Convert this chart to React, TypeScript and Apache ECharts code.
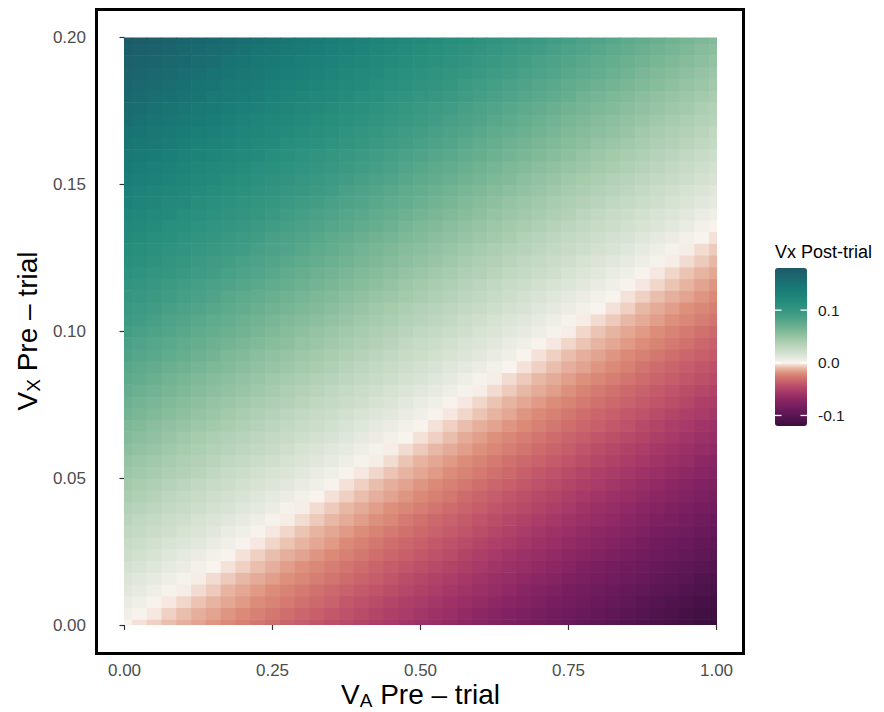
import React, { useEffect, useRef } from "react";
import * as echarts from "echarts";

// V_A pre-trial (x) sample points
const vaPreTrial = [0, 0.025, 0.05, 0.075, 0.1, 0.125, 0.15, 0.175, 0.2, 0.225, 0.25, 0.275, 0.3, 0.325, 0.35, 0.375, 0.4, 0.425, 0.45, 0.475, 0.5, 0.525, 0.55, 0.575, 0.6, 0.625, 0.65, 0.675, 0.7, 0.725, 0.75, 0.775, 0.8, 0.825, 0.85, 0.875, 0.9, 0.925, 0.95, 0.975, 1];
// V_X pre-trial (y) sample points
const vxPreTrial = [0, 0.004, 0.008, 0.012, 0.016, 0.02, 0.024, 0.028, 0.032, 0.036, 0.04, 0.044, 0.048, 0.052, 0.056, 0.06, 0.064, 0.068, 0.072, 0.076, 0.08, 0.084, 0.088, 0.092, 0.096, 0.1, 0.104, 0.108, 0.112, 0.116, 0.12, 0.124, 0.128, 0.132, 0.136, 0.14, 0.144, 0.148, 0.152, 0.156, 0.16, 0.164, 0.168, 0.172, 0.176, 0.18, 0.184, 0.188, 0.192, 0.196, 0.2];
// Vx post-trial: one row per vxPreTrial value, one column per vaPreTrial value
const vxPostTrial = [
  [0, -0.003, -0.006, -0.009, -0.012, -0.015, -0.018, -0.021, -0.024, -0.027, -0.03, -0.034, -0.037, -0.04, -0.043, -0.046, -0.049, -0.052, -0.055, -0.058, -0.061, -0.064, -0.067, -0.07, -0.073, -0.076, -0.079, -0.082, -0.085, -0.088, -0.091, -0.095, -0.098, -0.101, -0.104, -0.107, -0.11, -0.113, -0.116, -0.119, -0.122],
  [0.004, 0.001, -0.002, -0.006, -0.009, -0.012, -0.015, -0.018, -0.021, -0.024, -0.027, -0.03, -0.033, -0.036, -0.039, -0.042, -0.045, -0.048, -0.051, -0.054, -0.057, -0.06, -0.063, -0.067, -0.07, -0.073, -0.076, -0.079, -0.082, -0.085, -0.088, -0.091, -0.094, -0.097, -0.1, -0.103, -0.106, -0.109, -0.112, -0.115, -0.118],
  [0.007, 0.004, 0.001, -0.002, -0.005, -0.008, -0.011, -0.014, -0.017, -0.02, -0.023, -0.026, -0.029, -0.032, -0.035, -0.039, -0.042, -0.045, -0.048, -0.051, -0.054, -0.057, -0.06, -0.063, -0.066, -0.069, -0.072, -0.075, -0.078, -0.081, -0.084, -0.087, -0.09, -0.093, -0.096, -0.1, -0.103, -0.106, -0.109, -0.112, -0.115],
  [0.011, 0.008, 0.005, 0.002, -0.001, -0.004, -0.007, -0.011, -0.014, -0.017, -0.02, -0.023, -0.026, -0.029, -0.032, -0.035, -0.038, -0.041, -0.044, -0.047, -0.05, -0.053, -0.056, -0.059, -0.062, -0.065, -0.068, -0.072, -0.075, -0.078, -0.081, -0.084, -0.087, -0.09, -0.093, -0.096, -0.099, -0.102, -0.105, -0.108, -0.111],
  [0.014, 0.011, 0.008, 0.005, 0.002, -0.001, -0.004, -0.007, -0.01, -0.013, -0.016, -0.019, -0.022, -0.025, -0.028, -0.031, -0.034, -0.037, -0.04, -0.044, -0.047, -0.05, -0.053, -0.056, -0.059, -0.062, -0.065, -0.068, -0.071, -0.074, -0.077, -0.08, -0.083, -0.086, -0.089, -0.092, -0.095, -0.098, -0.101, -0.105, -0.108],
  [0.018, 0.015, 0.012, 0.009, 0.006, 0.003, 0, -0.003, -0.006, -0.009, -0.012, -0.016, -0.019, -0.022, -0.025, -0.028, -0.031, -0.034, -0.037, -0.04, -0.043, -0.046, -0.049, -0.052, -0.055, -0.058, -0.061, -0.064, -0.067, -0.07, -0.073, -0.077, -0.08, -0.083, -0.086, -0.089, -0.092, -0.095, -0.098, -0.101, -0.104],
  [0.022, 0.019, 0.016, 0.012, 0.009, 0.006, 0.003, 0, -0.003, -0.006, -0.009, -0.012, -0.015, -0.018, -0.021, -0.024, -0.027, -0.03, -0.033, -0.036, -0.039, -0.042, -0.045, -0.049, -0.052, -0.055, -0.058, -0.061, -0.064, -0.067, -0.07, -0.073, -0.076, -0.079, -0.082, -0.085, -0.088, -0.091, -0.094, -0.097, -0.1],
  [0.025, 0.022, 0.019, 0.016, 0.013, 0.01, 0.007, 0.004, 0.001, -0.002, -0.005, -0.008, -0.011, -0.014, -0.017, -0.021, -0.024, -0.027, -0.03, -0.033, -0.036, -0.039, -0.042, -0.045, -0.048, -0.051, -0.054, -0.057, -0.06, -0.063, -0.066, -0.069, -0.072, -0.075, -0.078, -0.082, -0.085, -0.088, -0.091, -0.094, -0.097],
  [0.029, 0.026, 0.023, 0.02, 0.017, 0.014, 0.011, 0.007, 0.004, 0.001, -0.002, -0.005, -0.008, -0.011, -0.014, -0.017, -0.02, -0.023, -0.026, -0.029, -0.032, -0.035, -0.038, -0.041, -0.044, -0.047, -0.05, -0.054, -0.057, -0.06, -0.063, -0.066, -0.069, -0.072, -0.075, -0.078, -0.081, -0.084, -0.087, -0.09, -0.093],
  [0.032, 0.029, 0.026, 0.023, 0.02, 0.017, 0.014, 0.011, 0.008, 0.005, 0.002, -0.001, -0.004, -0.007, -0.01, -0.013, -0.016, -0.019, -0.022, -0.026, -0.029, -0.032, -0.035, -0.038, -0.041, -0.044, -0.047, -0.05, -0.053, -0.056, -0.059, -0.062, -0.065, -0.068, -0.071, -0.074, -0.077, -0.08, -0.083, -0.087, -0.09],
  [0.036, 0.033, 0.03, 0.027, 0.024, 0.021, 0.018, 0.015, 0.012, 0.009, 0.006, 0.002, -0.001, -0.004, -0.007, -0.01, -0.013, -0.016, -0.019, -0.022, -0.025, -0.028, -0.031, -0.034, -0.037, -0.04, -0.043, -0.046, -0.049, -0.052, -0.055, -0.059, -0.062, -0.065, -0.068, -0.071, -0.074, -0.077, -0.08, -0.083, -0.086],
  [0.04, 0.037, 0.034, 0.03, 0.027, 0.024, 0.021, 0.018, 0.015, 0.012, 0.009, 0.006, 0.003, 0, -0.003, -0.006, -0.009, -0.012, -0.015, -0.018, -0.021, -0.024, -0.027, -0.031, -0.034, -0.037, -0.04, -0.043, -0.046, -0.049, -0.052, -0.055, -0.058, -0.061, -0.064, -0.067, -0.07, -0.073, -0.076, -0.079, -0.082],
  [0.043, 0.04, 0.037, 0.034, 0.031, 0.028, 0.025, 0.022, 0.019, 0.016, 0.013, 0.01, 0.007, 0.004, 0.001, -0.003, -0.006, -0.009, -0.012, -0.015, -0.018, -0.021, -0.024, -0.027, -0.03, -0.033, -0.036, -0.039, -0.042, -0.045, -0.048, -0.051, -0.054, -0.057, -0.06, -0.064, -0.067, -0.07, -0.073, -0.076, -0.079],
  [0.047, 0.044, 0.041, 0.038, 0.035, 0.032, 0.029, 0.025, 0.022, 0.019, 0.016, 0.013, 0.01, 0.007, 0.004, 0.001, -0.002, -0.005, -0.008, -0.011, -0.014, -0.017, -0.02, -0.023, -0.026, -0.029, -0.032, -0.036, -0.039, -0.042, -0.045, -0.048, -0.051, -0.054, -0.057, -0.06, -0.063, -0.066, -0.069, -0.072, -0.075],
  [0.05, 0.047, 0.044, 0.041, 0.038, 0.035, 0.032, 0.029, 0.026, 0.023, 0.02, 0.017, 0.014, 0.011, 0.008, 0.005, 0.002, -0.001, -0.004, -0.008, -0.011, -0.014, -0.017, -0.02, -0.023, -0.026, -0.029, -0.032, -0.035, -0.038, -0.041, -0.044, -0.047, -0.05, -0.053, -0.056, -0.059, -0.062, -0.065, -0.069, -0.072],
  [0.054, 0.051, 0.048, 0.045, 0.042, 0.039, 0.036, 0.033, 0.03, 0.027, 0.024, 0.02, 0.017, 0.014, 0.011, 0.008, 0.005, 0.002, -0.001, -0.004, -0.007, -0.01, -0.013, -0.016, -0.019, -0.022, -0.025, -0.028, -0.031, -0.034, -0.037, -0.041, -0.044, -0.047, -0.05, -0.053, -0.056, -0.059, -0.062, -0.065, -0.068],
  [0.058, 0.055, 0.052, 0.048, 0.045, 0.042, 0.039, 0.036, 0.033, 0.03, 0.027, 0.024, 0.021, 0.018, 0.015, 0.012, 0.009, 0.006, 0.003, 0, -0.003, -0.006, -0.009, -0.013, -0.016, -0.019, -0.022, -0.025, -0.028, -0.031, -0.034, -0.037, -0.04, -0.043, -0.046, -0.049, -0.052, -0.055, -0.058, -0.061, -0.064],
  [0.061, 0.058, 0.055, 0.052, 0.049, 0.046, 0.043, 0.04, 0.037, 0.034, 0.031, 0.028, 0.025, 0.022, 0.019, 0.015, 0.012, 0.009, 0.006, 0.003, 0, -0.003, -0.006, -0.009, -0.012, -0.015, -0.018, -0.021, -0.024, -0.027, -0.03, -0.033, -0.036, -0.039, -0.042, -0.046, -0.049, -0.052, -0.055, -0.058, -0.061],
  [0.065, 0.062, 0.059, 0.056, 0.053, 0.05, 0.047, 0.043, 0.04, 0.037, 0.034, 0.031, 0.028, 0.025, 0.022, 0.019, 0.016, 0.013, 0.01, 0.007, 0.004, 0.001, -0.002, -0.005, -0.008, -0.011, -0.014, -0.018, -0.021, -0.024, -0.027, -0.03, -0.033, -0.036, -0.039, -0.042, -0.045, -0.048, -0.051, -0.054, -0.057],
  [0.068, 0.065, 0.062, 0.059, 0.056, 0.053, 0.05, 0.047, 0.044, 0.041, 0.038, 0.035, 0.032, 0.029, 0.026, 0.023, 0.02, 0.017, 0.014, 0.01, 0.007, 0.004, 0.001, -0.002, -0.005, -0.008, -0.011, -0.014, -0.017, -0.02, -0.023, -0.026, -0.029, -0.032, -0.035, -0.038, -0.041, -0.044, -0.047, -0.051, -0.054],
  [0.072, 0.069, 0.066, 0.063, 0.06, 0.057, 0.054, 0.051, 0.048, 0.045, 0.042, 0.038, 0.035, 0.032, 0.029, 0.026, 0.023, 0.02, 0.017, 0.014, 0.011, 0.008, 0.005, 0.002, -0.001, -0.004, -0.007, -0.01, -0.013, -0.016, -0.019, -0.023, -0.026, -0.029, -0.032, -0.035, -0.038, -0.041, -0.044, -0.047, -0.05],
  [0.076, 0.073, 0.07, 0.066, 0.063, 0.06, 0.057, 0.054, 0.051, 0.048, 0.045, 0.042, 0.039, 0.036, 0.033, 0.03, 0.027, 0.024, 0.021, 0.018, 0.015, 0.012, 0.009, 0.005, 0.002, -0.001, -0.004, -0.007, -0.01, -0.013, -0.016, -0.019, -0.022, -0.025, -0.028, -0.031, -0.034, -0.037, -0.04, -0.043, -0.046],
  [0.079, 0.076, 0.073, 0.07, 0.067, 0.064, 0.061, 0.058, 0.055, 0.052, 0.049, 0.046, 0.043, 0.04, 0.037, 0.033, 0.03, 0.027, 0.024, 0.021, 0.018, 0.015, 0.012, 0.009, 0.006, 0.003, 0, -0.003, -0.006, -0.009, -0.012, -0.015, -0.018, -0.021, -0.024, -0.028, -0.031, -0.034, -0.037, -0.04, -0.043],
  [0.083, 0.08, 0.077, 0.074, 0.071, 0.068, 0.065, 0.061, 0.058, 0.055, 0.052, 0.049, 0.046, 0.043, 0.04, 0.037, 0.034, 0.031, 0.028, 0.025, 0.022, 0.019, 0.016, 0.013, 0.01, 0.007, 0.004, 0, -0.003, -0.006, -0.009, -0.012, -0.015, -0.018, -0.021, -0.024, -0.027, -0.03, -0.033, -0.036, -0.039],
  [0.086, 0.083, 0.08, 0.077, 0.074, 0.071, 0.068, 0.065, 0.062, 0.059, 0.056, 0.053, 0.05, 0.047, 0.044, 0.041, 0.038, 0.035, 0.032, 0.028, 0.025, 0.022, 0.019, 0.016, 0.013, 0.01, 0.007, 0.004, 0.001, -0.002, -0.005, -0.008, -0.011, -0.014, -0.017, -0.02, -0.023, -0.026, -0.029, -0.033, -0.036],
  [0.09, 0.087, 0.084, 0.081, 0.078, 0.075, 0.072, 0.069, 0.066, 0.063, 0.06, 0.056, 0.053, 0.05, 0.047, 0.044, 0.041, 0.038, 0.035, 0.032, 0.029, 0.026, 0.023, 0.02, 0.017, 0.014, 0.011, 0.008, 0.005, 0.002, -0.001, -0.005, -0.008, -0.011, -0.014, -0.017, -0.02, -0.023, -0.026, -0.029, -0.032],
  [0.094, 0.091, 0.088, 0.084, 0.081, 0.078, 0.075, 0.072, 0.069, 0.066, 0.063, 0.06, 0.057, 0.054, 0.051, 0.048, 0.045, 0.042, 0.039, 0.036, 0.033, 0.03, 0.027, 0.023, 0.02, 0.017, 0.014, 0.011, 0.008, 0.005, 0.002, -0.001, -0.004, -0.007, -0.01, -0.013, -0.016, -0.019, -0.022, -0.025, -0.028],
  [0.097, 0.094, 0.091, 0.088, 0.085, 0.082, 0.079, 0.076, 0.073, 0.07, 0.067, 0.064, 0.061, 0.058, 0.055, 0.051, 0.048, 0.045, 0.042, 0.039, 0.036, 0.033, 0.03, 0.027, 0.024, 0.021, 0.018, 0.015, 0.012, 0.009, 0.006, 0.003, 0, -0.003, -0.006, -0.01, -0.013, -0.016, -0.019, -0.022, -0.025],
  [0.101, 0.098, 0.095, 0.092, 0.089, 0.086, 0.083, 0.079, 0.076, 0.073, 0.07, 0.067, 0.064, 0.061, 0.058, 0.055, 0.052, 0.049, 0.046, 0.043, 0.04, 0.037, 0.034, 0.031, 0.028, 0.025, 0.022, 0.018, 0.015, 0.012, 0.009, 0.006, 0.003, 0, -0.003, -0.006, -0.009, -0.012, -0.015, -0.018, -0.021],
  [0.104, 0.101, 0.098, 0.095, 0.092, 0.089, 0.086, 0.083, 0.08, 0.077, 0.074, 0.071, 0.068, 0.065, 0.062, 0.059, 0.056, 0.053, 0.05, 0.046, 0.043, 0.04, 0.037, 0.034, 0.031, 0.028, 0.025, 0.022, 0.019, 0.016, 0.013, 0.01, 0.007, 0.004, 0.001, -0.002, -0.005, -0.008, -0.011, -0.015, -0.018],
  [0.108, 0.105, 0.102, 0.099, 0.096, 0.093, 0.09, 0.087, 0.084, 0.081, 0.078, 0.074, 0.071, 0.068, 0.065, 0.062, 0.059, 0.056, 0.053, 0.05, 0.047, 0.044, 0.041, 0.038, 0.035, 0.032, 0.029, 0.026, 0.023, 0.02, 0.017, 0.013, 0.01, 0.007, 0.004, 0.001, -0.002, -0.005, -0.008, -0.011, -0.014],
  [0.112, 0.109, 0.106, 0.102, 0.099, 0.096, 0.093, 0.09, 0.087, 0.084, 0.081, 0.078, 0.075, 0.072, 0.069, 0.066, 0.063, 0.06, 0.057, 0.054, 0.051, 0.048, 0.045, 0.041, 0.038, 0.035, 0.032, 0.029, 0.026, 0.023, 0.02, 0.017, 0.014, 0.011, 0.008, 0.005, 0.002, -0.001, -0.004, -0.007, -0.01],
  [0.115, 0.112, 0.109, 0.106, 0.103, 0.1, 0.097, 0.094, 0.091, 0.088, 0.085, 0.082, 0.079, 0.076, 0.073, 0.069, 0.066, 0.063, 0.06, 0.057, 0.054, 0.051, 0.048, 0.045, 0.042, 0.039, 0.036, 0.033, 0.03, 0.027, 0.024, 0.021, 0.018, 0.015, 0.012, 0.008, 0.005, 0.002, -0.001, -0.004, -0.007],
  [0.119, 0.116, 0.113, 0.11, 0.107, 0.104, 0.101, 0.097, 0.094, 0.091, 0.088, 0.085, 0.082, 0.079, 0.076, 0.073, 0.07, 0.067, 0.064, 0.061, 0.058, 0.055, 0.052, 0.049, 0.046, 0.043, 0.04, 0.036, 0.033, 0.03, 0.027, 0.024, 0.021, 0.018, 0.015, 0.012, 0.009, 0.006, 0.003, 0, -0.003],
  [0.122, 0.119, 0.116, 0.113, 0.11, 0.107, 0.104, 0.101, 0.098, 0.095, 0.092, 0.089, 0.086, 0.083, 0.08, 0.077, 0.074, 0.071, 0.068, 0.064, 0.061, 0.058, 0.055, 0.052, 0.049, 0.046, 0.043, 0.04, 0.037, 0.034, 0.031, 0.028, 0.025, 0.022, 0.019, 0.016, 0.013, 0.01, 0.007, 0.003, 0],
  [0.126, 0.123, 0.12, 0.117, 0.114, 0.111, 0.108, 0.105, 0.102, 0.099, 0.096, 0.092, 0.089, 0.086, 0.083, 0.08, 0.077, 0.074, 0.071, 0.068, 0.065, 0.062, 0.059, 0.056, 0.053, 0.05, 0.047, 0.044, 0.041, 0.038, 0.035, 0.031, 0.028, 0.025, 0.022, 0.019, 0.016, 0.013, 0.01, 0.007, 0.004],
  [0.13, 0.127, 0.124, 0.12, 0.117, 0.114, 0.111, 0.108, 0.105, 0.102, 0.099, 0.096, 0.093, 0.09, 0.087, 0.084, 0.081, 0.078, 0.075, 0.072, 0.069, 0.066, 0.063, 0.059, 0.056, 0.053, 0.05, 0.047, 0.044, 0.041, 0.038, 0.035, 0.032, 0.029, 0.026, 0.023, 0.02, 0.017, 0.014, 0.011, 0.008],
  [0.133, 0.13, 0.127, 0.124, 0.121, 0.118, 0.115, 0.112, 0.109, 0.106, 0.103, 0.1, 0.097, 0.094, 0.091, 0.087, 0.084, 0.081, 0.078, 0.075, 0.072, 0.069, 0.066, 0.063, 0.06, 0.057, 0.054, 0.051, 0.048, 0.045, 0.042, 0.039, 0.036, 0.033, 0.03, 0.026, 0.023, 0.02, 0.017, 0.014, 0.011],
  [0.137, 0.134, 0.131, 0.128, 0.125, 0.122, 0.119, 0.115, 0.112, 0.109, 0.106, 0.103, 0.1, 0.097, 0.094, 0.091, 0.088, 0.085, 0.082, 0.079, 0.076, 0.073, 0.07, 0.067, 0.064, 0.061, 0.058, 0.054, 0.051, 0.048, 0.045, 0.042, 0.039, 0.036, 0.033, 0.03, 0.027, 0.024, 0.021, 0.018, 0.015],
  [0.14, 0.137, 0.134, 0.131, 0.128, 0.125, 0.122, 0.119, 0.116, 0.113, 0.11, 0.107, 0.104, 0.101, 0.098, 0.095, 0.092, 0.089, 0.086, 0.082, 0.079, 0.076, 0.073, 0.07, 0.067, 0.064, 0.061, 0.058, 0.055, 0.052, 0.049, 0.046, 0.043, 0.04, 0.037, 0.034, 0.031, 0.028, 0.025, 0.021, 0.018],
  [0.144, 0.141, 0.138, 0.135, 0.132, 0.129, 0.126, 0.123, 0.12, 0.117, 0.114, 0.11, 0.107, 0.104, 0.101, 0.098, 0.095, 0.092, 0.089, 0.086, 0.083, 0.08, 0.077, 0.074, 0.071, 0.068, 0.065, 0.062, 0.059, 0.056, 0.053, 0.049, 0.046, 0.043, 0.04, 0.037, 0.034, 0.031, 0.028, 0.025, 0.022],
  [0.148, 0.145, 0.142, 0.138, 0.135, 0.132, 0.129, 0.126, 0.123, 0.12, 0.117, 0.114, 0.111, 0.108, 0.105, 0.102, 0.099, 0.096, 0.093, 0.09, 0.087, 0.084, 0.081, 0.077, 0.074, 0.071, 0.068, 0.065, 0.062, 0.059, 0.056, 0.053, 0.05, 0.047, 0.044, 0.041, 0.038, 0.035, 0.032, 0.029, 0.026],
  [0.151, 0.148, 0.145, 0.142, 0.139, 0.136, 0.133, 0.13, 0.127, 0.124, 0.121, 0.118, 0.115, 0.112, 0.109, 0.105, 0.102, 0.099, 0.096, 0.093, 0.09, 0.087, 0.084, 0.081, 0.078, 0.075, 0.072, 0.069, 0.066, 0.063, 0.06, 0.057, 0.054, 0.051, 0.048, 0.044, 0.041, 0.038, 0.035, 0.032, 0.029],
  [0.155, 0.152, 0.149, 0.146, 0.143, 0.14, 0.137, 0.133, 0.13, 0.127, 0.124, 0.121, 0.118, 0.115, 0.112, 0.109, 0.106, 0.103, 0.1, 0.097, 0.094, 0.091, 0.088, 0.085, 0.082, 0.079, 0.076, 0.072, 0.069, 0.066, 0.063, 0.06, 0.057, 0.054, 0.051, 0.048, 0.045, 0.042, 0.039, 0.036, 0.033],
  [0.158, 0.155, 0.152, 0.149, 0.146, 0.143, 0.14, 0.137, 0.134, 0.131, 0.128, 0.125, 0.122, 0.119, 0.116, 0.113, 0.11, 0.107, 0.104, 0.1, 0.097, 0.094, 0.091, 0.088, 0.085, 0.082, 0.079, 0.076, 0.073, 0.07, 0.067, 0.064, 0.061, 0.058, 0.055, 0.052, 0.049, 0.046, 0.043, 0.039, 0.036],
  [0.162, 0.159, 0.156, 0.153, 0.15, 0.147, 0.144, 0.141, 0.138, 0.135, 0.132, 0.128, 0.125, 0.122, 0.119, 0.116, 0.113, 0.11, 0.107, 0.104, 0.101, 0.098, 0.095, 0.092, 0.089, 0.086, 0.083, 0.08, 0.077, 0.074, 0.071, 0.067, 0.064, 0.061, 0.058, 0.055, 0.052, 0.049, 0.046, 0.043, 0.04],
  [0.166, 0.163, 0.16, 0.156, 0.153, 0.15, 0.147, 0.144, 0.141, 0.138, 0.135, 0.132, 0.129, 0.126, 0.123, 0.12, 0.117, 0.114, 0.111, 0.108, 0.105, 0.102, 0.099, 0.095, 0.092, 0.089, 0.086, 0.083, 0.08, 0.077, 0.074, 0.071, 0.068, 0.065, 0.062, 0.059, 0.056, 0.053, 0.05, 0.047, 0.044],
  [0.169, 0.166, 0.163, 0.16, 0.157, 0.154, 0.151, 0.148, 0.145, 0.142, 0.139, 0.136, 0.133, 0.13, 0.127, 0.123, 0.12, 0.117, 0.114, 0.111, 0.108, 0.105, 0.102, 0.099, 0.096, 0.093, 0.09, 0.087, 0.084, 0.081, 0.078, 0.075, 0.072, 0.069, 0.066, 0.062, 0.059, 0.056, 0.053, 0.05, 0.047],
  [0.173, 0.17, 0.167, 0.164, 0.161, 0.158, 0.155, 0.151, 0.148, 0.145, 0.142, 0.139, 0.136, 0.133, 0.13, 0.127, 0.124, 0.121, 0.118, 0.115, 0.112, 0.109, 0.106, 0.103, 0.1, 0.097, 0.094, 0.09, 0.087, 0.084, 0.081, 0.078, 0.075, 0.072, 0.069, 0.066, 0.063, 0.06, 0.057, 0.054, 0.051],
  [0.176, 0.173, 0.17, 0.167, 0.164, 0.161, 0.158, 0.155, 0.152, 0.149, 0.146, 0.143, 0.14, 0.137, 0.134, 0.131, 0.128, 0.125, 0.122, 0.118, 0.115, 0.112, 0.109, 0.106, 0.103, 0.1, 0.097, 0.094, 0.091, 0.088, 0.085, 0.082, 0.079, 0.076, 0.073, 0.07, 0.067, 0.064, 0.061, 0.057, 0.054],
  [0.18, 0.177, 0.174, 0.171, 0.168, 0.165, 0.162, 0.159, 0.156, 0.153, 0.15, 0.146, 0.143, 0.14, 0.137, 0.134, 0.131, 0.128, 0.125, 0.122, 0.119, 0.116, 0.113, 0.11, 0.107, 0.104, 0.101, 0.098, 0.095, 0.092, 0.089, 0.085, 0.082, 0.079, 0.076, 0.073, 0.07, 0.067, 0.064, 0.061, 0.058],
];

// Colour-bar ticks
const legendTicks = [0.1, 0, -0.1];
const legendTickLabels = ["0.1", "0.0", "-0.1"];

// Palette from -0.12 (first) to 0.18 (last), evenly spaced
const fieldColors = [
  "#3c0e3f", "#4a1249", "#5a1653", "#6a1a5b", "#7a1f60", "#8c2764", "#9e3267", "#b04268",
  "#c1566a", "#cf6e6d", "#dc8d79", "#e8b8a6", "#f9f3ee", "#e3e8dd", "#d0dfcd", "#bed6bf",
  "#aacdb0", "#95c3a3", "#7fb998", "#69af90", "#55a68a", "#439d85", "#359681", "#2a907e",
  "#22897b", "#1d8279", "#1a7b76", "#197373", "#1a6a70", "#1c626c", "#1d5a68",
];

const FONT = "'Liberation Sans', Arial, Helvetica, sans-serif";

export default function App() {
  const ref = useRef<HTMLDivElement>(null);

  useEffect(() => {
    document.body.style.margin = "0";
    if (!ref.current) return;
    const chart = echarts.init(ref.current, undefined, { renderer: "svg" });

    const cellW = vaPreTrial[1] - vaPreTrial[0];
    const cellH = vxPreTrial[1] - vxPreTrial[0];
    const data: number[][] = [];
    vxPreTrial.forEach((vy, i) => {
      vaPreTrial.forEach((vx, j) => {
        data.push([vx, vy, vxPostTrial[i][j]]);
      });
    });

    const vmMin = -0.12;
    const vmMax = 0.18;
    const lgLeft = 775;
    const lgTop = 268;
    const lgW = 32;
    const lgH = 158;
    const yOf = (v: number) => lgTop + ((vmMax - v) / (vmMax - vmMin)) * lgH;

    const legendGraphics: any[] = [];
    legendTicks.forEach((t, i) => {
      const y = yOf(t);
      legendGraphics.push({
        type: "line",
        shape: { x1: lgLeft, y1: y, x2: lgLeft + 6.5, y2: y },
        style: { stroke: "#ffffff", lineWidth: 1.3 },
        z: 100,
      });
      legendGraphics.push({
        type: "line",
        shape: { x1: lgLeft + lgW - 6.5, y1: y, x2: lgLeft + lgW, y2: y },
        style: { stroke: "#ffffff", lineWidth: 1.3 },
        z: 100,
      });
      legendGraphics.push({
        type: "text",
        x: lgLeft + lgW + 11,
        y,
        style: {
          text: legendTickLabels[i],
          fill: "#1a1a1a",
          font: `15.5px ${FONT}`,
          textVerticalAlign: "middle",
          textAlign: "left",
        },
        z: 100,
      });
    });

    const titleRich = {
      v: { fontSize: 28, fontFamily: FONT, fill: "#000", color: "#000", lineHeight: 32, verticalAlign: "middle" },
      s: { fontSize: 19, fontFamily: FONT, fill: "#000", color: "#000", lineHeight: 17, verticalAlign: "bottom" },
    };

    chart.setOption({
      animation: false,
      backgroundColor: "#ffffff",
      grid: { left: 124.5, top: 37.5, width: 592, height: 587.5, containLabel: false },
      xAxis: {
        type: "value",
        min: 0,
        max: 1,
        interval: 0.25,
        offset: 30,
        axisLine: { show: false },
        axisTick: { show: true, length: 5, lineStyle: { color: "#333333", width: 1.2 } },
        splitLine: { show: false },
        axisLabel: {
          margin: 7,
          color: "#4d4d4d",
          fontSize: 17,
          fontFamily: FONT,
          formatter: (v: number) => v.toFixed(2),
        },
      },
      yAxis: {
        type: "value",
        min: 0,
        max: 0.2,
        interval: 0.05,
        offset: 29.5,
        axisLine: { show: false },
        axisTick: { show: true, length: 5, lineStyle: { color: "#333333", width: 1.2 } },
        splitLine: { show: false },
        axisLabel: {
          margin: 9,
          color: "#4d4d4d",
          fontSize: 17,
          fontFamily: FONT,
          formatter: (v: number) => v.toFixed(2),
        },
      },
      visualMap: {
        type: "continuous",
        seriesIndex: 0,
        dimension: 2,
        min: vmMin,
        max: vmMax,
        left: lgLeft,
        top: lgTop,
        itemWidth: lgW,
        itemHeight: lgH,
        padding: 0,
        calculable: false,
        hoverLink: false,
        realtime: false,
        orient: "vertical",
        inRange: { color: fieldColors },
      },
      series: [
        {
          type: "custom",
          silent: true,
          clip: true,
          dimensions: ["va", "vx", "post"],
          encode: { x: 0, y: 1 },
          data,
          renderItem: (params: any, api: any) => {
            const x = api.value(0);
            const y = api.value(1);
            const a = api.coord([x - cellW / 2, y + cellH / 2]);
            const b = api.coord([x + cellW / 2, y - cellH / 2]);
            return {
              type: "rect",
              shape: { x: a[0], y: a[1], width: b[0] - a[0] + 0.7, height: b[1] - a[1] + 0.7 },
              style: { fill: api.visual("color") },
            };
          },
        },
      ],
      graphic: [
        {
          type: "rect",
          shape: { x: 96.5, y: 9.5, width: 647, height: 644 },
          style: { fill: "none", stroke: "#000000", lineWidth: 3 },
          z: 50,
        },
        {
          type: "text",
          x: 420.5,
          y: 694,
          style: {
            text: "{v|V}{s|A}{v| Pre – trial}",
            rich: titleRich,
            textAlign: "center",
            textVerticalAlign: "middle",
          },
          z: 50,
        },
        {
          type: "text",
          x: 27,
          y: 331,
          rotation: Math.PI / 2,
          style: {
            text: "{v|V}{s|X}{v| Pre – trial}",
            rich: titleRich,
            textAlign: "center",
            textVerticalAlign: "middle",
          },
          z: 50,
        },
        {
          type: "text",
          x: lgLeft,
          y: 252,
          style: {
            text: "Vx Post-trial",
            fill: "#000000",
            font: `18px ${FONT}`,
            textAlign: "left",
            textVerticalAlign: "middle",
          },
          z: 50,
        },
        ...legendGraphics,
      ],
    });

    return () => {
      chart.dispose();
    };
  }, []);

  return (
    <div
      ref={ref}
      style={{ position: "absolute", left: 0, top: 0, width: 884, height: 712 }}
    />
  );
}
